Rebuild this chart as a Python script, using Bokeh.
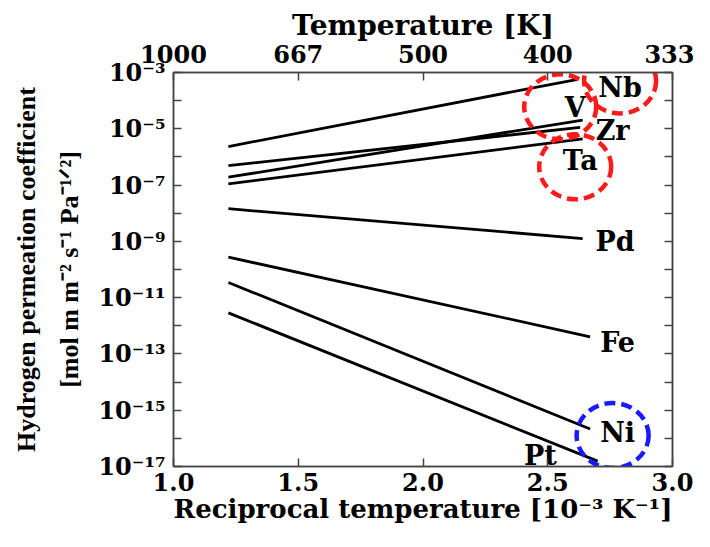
from bokeh.plotting import figure
from bokeh.models import (Range1d, LinearAxis, LogAxis, FixedTicker,
                          CustomJSTickFormatter, NumeralTickFormatter, ColumnDataSource)
from bokeh.core.properties import value
from bokeh.embed import file_html
from bokeh.resources import INLINE

# ---- data ----
metals = ["Nb", "V", "Zr", "Ta", "Pd", "Fe", "Ni", "Pt"]
x_start = [1.22, 1.22, 1.22, 1.22, 1.22, 1.22, 1.22, 1.22]          # 1/T [1e-3 K^-1]
x_end = [2.62, 2.64, 2.63, 2.64, 2.64, 2.67, 2.67, 2.70]
log_perm_start = [-5.63, -6.72, -6.31, -6.96, -7.84, -9.56, -10.46, -11.54]  # log10 coefficient
log_perm_end = [-3.24, -4.69, -4.95, -5.36, -8.90, -12.39, -15.67, -16.81]

label_x = [2.79, 2.61, 2.76, 2.63, 2.77, 2.78, 2.78, 2.47]
label_log_y = [-3.55, -4.26, -5.07, -6.13, -9.02, -12.61, -15.80, -16.61]

circled = ["Nb", "V", "Ta", "Ni"]
circle_x = [2.79, 2.55, 2.61, 2.76]
circle_log_y = [-3.30, -4.22, -6.35, -15.90]
circle_color = ["#ff1a1a", "#ff1a1a", "#ff1a1a", "#1a1aff"]

bottom_ticks = [1.0, 1.5, 2.0, 2.5, 3.0]
top_ticks = [1.0, 1.5, 2.0, 2.5, 3.0]
top_labels = ["1000", "667", "500", "400", "333"]
y_exps = list(range(-3, -18, -1))
y_label_exps = [-3, -5, -7, -9, -11, -13, -15, -17]
y_labels = ["10⁻³", "10⁻⁵", "10⁻⁷", "10⁻⁹", "10⁻¹¹", "10⁻¹³", "10⁻¹⁵", "10⁻¹⁷"]

FONT = "DejaVu Serif"
TITLE_FONT = "Liberation Serif"
FRAME = "#444444"

p = figure(width=694, height=531, output_backend="svg", toolbar_location=None,
           y_axis_type="log", x_range=Range1d(1.0, 3.0), y_range=Range1d(1e-17, 1e-3),
           min_border_left=173, min_border_right=22, min_border_top=72, min_border_bottom=65,
           background_fill_color="white", border_fill_color="white")
p.grid.visible = False
p.outline_line_color = FRAME
p.outline_line_width = 1.5

# lines
src = ColumnDataSource(dict(
    xs=[[a, b] for a, b in zip(x_start, x_end)],
    ys=[[10 ** a, 10 ** b] for a, b in zip(log_perm_start, log_perm_end)],
))
p.multi_line("xs", "ys", source=src, line_color="black", line_width=2.8)

# labels
lab = ColumnDataSource(dict(x=label_x, y=[10 ** v for v in label_log_y], t=metals))
p.text("x", "y", text="t", source=lab, text_font=value(FONT), text_font_style="bold",
       text_font_size="27px", text_align="center", text_baseline="middle", text_color="black")

# dashed circles
cs = ColumnDataSource(dict(x=circle_x, y=[10 ** v for v in circle_log_y], c=circle_color))
p.ellipse("x", "y", width=72, height=65, width_units="screen", height_units="screen",
          source=cs, fill_color=None, line_color="c", line_width=4.5, line_dash="11 6")

def style_axis(ax, tick_size="24px", label_size="26px", label_font=FONT):
    ax.axis_line_color = FRAME
    ax.axis_line_width = 1.5
    ax.major_tick_line_color = FRAME
    ax.major_tick_line_width = 1.5
    ax.major_tick_in = 8
    ax.major_tick_out = 0
    ax.minor_tick_in = 0
    ax.minor_tick_out = 0
    ax.major_label_text_font = FONT
    ax.major_label_text_font_style = "bold"
    ax.major_label_text_font_size = tick_size
    ax.major_label_text_color = "black"
    ax.axis_label_text_font = label_font
    ax.axis_label_text_font_style = "bold"
    ax.axis_label_text_font_size = label_size
    ax.axis_label_text_color = "black"

# bottom axis
xb = p.xaxis[0]
style_axis(xb, tick_size="24px", label_size="26px")
xb.ticker = FixedTicker(ticks=bottom_ticks)
xb.formatter = NumeralTickFormatter(format="0.0")
xb.axis_label = "Reciprocal temperature [10⁻³ K⁻¹]"
xb.major_label_standoff = 6
xb.axis_label_standoff = 0

# left axis (ticks, labels, second line of title)
yl = p.yaxis[0]
style_axis(yl, tick_size="24px", label_size="26px", label_font=TITLE_FONT)
yl.ticker = FixedTicker(ticks=[10.0 ** e for e in y_exps])
yl.formatter = CustomJSTickFormatter(args=dict(exps=y_label_exps, labels=y_labels), code="""
const e = Math.round(Math.log10(tick));
const i = exps.indexOf(e);
return i >= 0 ? labels[i] : "";
""")
yl.axis_label = "[mol m m⁻² s⁻¹ Pa⁻¹ᐟ²]"
yl.major_label_standoff = 8
yl.axis_label_standoff = 11

# outer left axis carrying only the first title line
yt = LinearAxis(ticker=FixedTicker(ticks=[]), axis_label="Hydrogen permeation coefficient")
style_axis(yt, tick_size="24px", label_size="26px", label_font=TITLE_FONT)
yt.axis_line_color = None
yt.major_tick_line_color = None
yt.axis_label_standoff = 12
p.add_layout(yt, "left")

# right axis (ticks only)
yr = LogAxis(ticker=FixedTicker(ticks=[10.0 ** e for e in y_exps]),
             formatter=CustomJSTickFormatter(code="return '';"))
style_axis(yr)
yr.major_label_standoff = 0
p.add_layout(yr, "right")

# top axis: temperature
xt = LinearAxis(ticker=FixedTicker(ticks=top_ticks),
                formatter=CustomJSTickFormatter(args=dict(t=top_ticks, l=top_labels), code="""
let best = 0;
for (let i = 0; i < t.length; i++) { if (Math.abs(t[i] - tick) < Math.abs(t[best] - tick)) best = i; }
return l[best];
"""))
style_axis(xt, tick_size="24px", label_size="28px")
xt.axis_label = "Temperature [K]"
xt.major_label_standoff = 10
xt.axis_label_standoff = 0
p.add_layout(xt, "above")

open("out.html", "w").write(file_html(p, INLINE))
